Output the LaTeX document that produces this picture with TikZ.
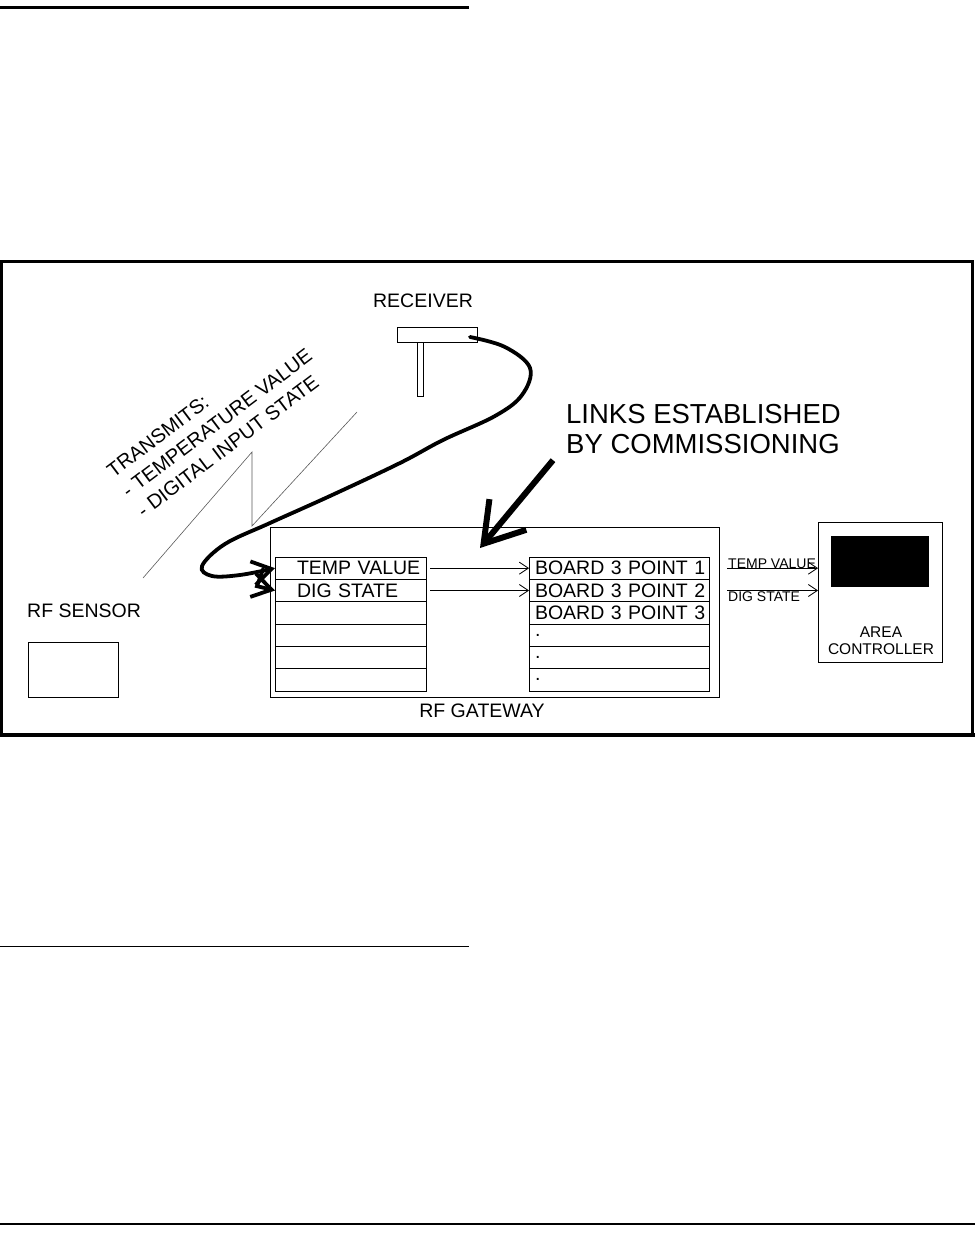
\documentclass[tikz,border=0pt]{standalone}
\usepackage{fontspec}
\setmainfont{Liberation Sans}
\usetikzlibrary{positioning,arrows.meta,calc}
\tikzset{
  frm/.style={line width=3.5pt},
  pgline/.style={line width=1.6pt},
  box/.style={draw,line width=0.9pt,inner sep=0pt,outer sep=0pt},
  lbl/.style={inner sep=0pt,font=\fontsize{19.5}{23}\selectfont},
  smlbl/.style={inner sep=0pt,font=\fontsize{14}{16}\selectfont},
  rowl/.style={box,lbl,minimum height=22.33pt,text width=151pt,align=left,
    execute at begin node={\hspace*{22pt}}},
  rowr/.style={box,lbl,minimum height=22.33pt,text width=180pt,align=left,
    execute at begin node={\hspace*{6pt}}},
  thinarr/.style={-{Straight Barb[length=9pt,width=12pt]},line width=0.8pt},
  cable/.style={line width=3.8pt,line cap=round,-{Straight Barb[length=19pt,width=24pt]}},
  bigarr/.style={line width=6pt,-{Straight Barb[length=38pt,width=48pt]}},
  bolt/.style={line width=0.6pt,black!65},
}
\begin{document}
\begin{tikzpicture}[x=1pt,y=-1pt]
  \useasboundingbox (0,0) rectangle (975,1244);
  % page rules and frame
  \draw[pgline,line width=2.6pt] (0,7.3) -- (469,7.3);
  \draw[pgline] (0,946.5) -- (469,946.5);
  \draw[pgline] (0,1224) -- (975,1224);
  \draw[frm] (1.7,261.7) rectangle (972.5,735);
  \draw[frm,line width=4pt] (0,735) -- (975,735);

  % receiver
  \node[box,minimum width=80pt,minimum height=15pt] (rxbar) at (437,334.5) {};
  \node[box,minimum width=6pt,minimum height=54pt,anchor=north] (rxstem)
    at ($(rxbar.south)+(-17,0)$) {};
  \node[lbl,anchor=base] (rxlbl) at (423,307) {RECEIVER};

  % sensor
  \node[box,minimum width=90pt,minimum height=55pt] (sens) at (73,669.5) {};
  \node[lbl,anchor=base west] (senslbl) at (27,617) {RF SENSOR};

  % gateway with its two tables
  \node[box,minimum width=449pt,minimum height=170pt] (gw) at (494.5,612) {};
  \node[lbl,anchor=base] (gwlbl) at (482,717) {RF GATEWAY};
  \foreach \i/\t in {1/TEMP VALUE,2/DIG STATE,3/,4/,5/,6/}
    \node[rowl] (l\i) at (350.5,{557+22.33*(\i-0.5)}) {\t};
  \foreach \i/\t in {1/BOARD 3 POINT 1,2/BOARD 3 POINT 2,3/BOARD 3 POINT 3,4/.,5/.,6/.}
    \node[rowr] (r\i) at (619,{557+22.33*(\i-0.5)}) {\t};

  % area controller
  \node[box,minimum width=124pt,minimum height=140pt] (ac) at (880,592) {};
  \node[fill=black,inner sep=0pt,minimum width=98pt,minimum height=51pt] (acscr) at (880,561.5) {};
  \node[inner sep=0pt,font=\fontsize{15.5}{17.5}\selectfont,align=center,anchor=north]
    (aclbl) at (881,626.5) {AREA\\CONTROLLER};

  % texts
  \node[inner sep=0pt,font=\fontsize{27.5}{30}\selectfont,align=left,anchor=north west]
    (links) at (566,404.3) {LINKS ESTABLISHED\\BY COMMISSIONING};
  \node[inner sep=0pt,font=\fontsize{20}{25}\selectfont,rotate=37,align=left,
    anchor=north west] (tx) at (105,467)
    {TRANSMITS:\\- TEMPERATURE VALUE\\- DIGITAL INPUT STATE};

  % radio link
  \draw[bolt] (143,578) -- (252,452) -- (252,526) -- (357,412);

  % point links
  \foreach \i in {1,2}{
    \draw[thinarr] ($(l\i.east)+(4,0)$) -- (r\i.west);
    \draw[thinarr] ($(r\i.east)+(18,0)$) -- (r\i.east -| ac.west);
  }
  \node[smlbl,anchor=base west] (tvout) at (728,568) {TEMP VALUE};
  \node[smlbl,anchor=base west] (dsout) at (728,601) {DIG STATE};

  % receiver cable
  \coordinate (cab0) at (470,337);
  \draw[cable] plot[smooth,tension=0.6] coordinates {(cab0) (505,347) (530,368)
    (522,395) (495,416) (443,440) (400,463) (330,496) (270,523) (225,544)
    (202,566) (212,576) (240,575) (l1.west)};
  \draw[cable] ($(l1.west)+(-12,1)$) -- ++(-6,17) -- (l2.west);

  \draw[bigarr] ($(links.south west)+(-13,6)$) -- ($(gw.north)+(-14.5,21)$);
\end{tikzpicture}
\end{document}
